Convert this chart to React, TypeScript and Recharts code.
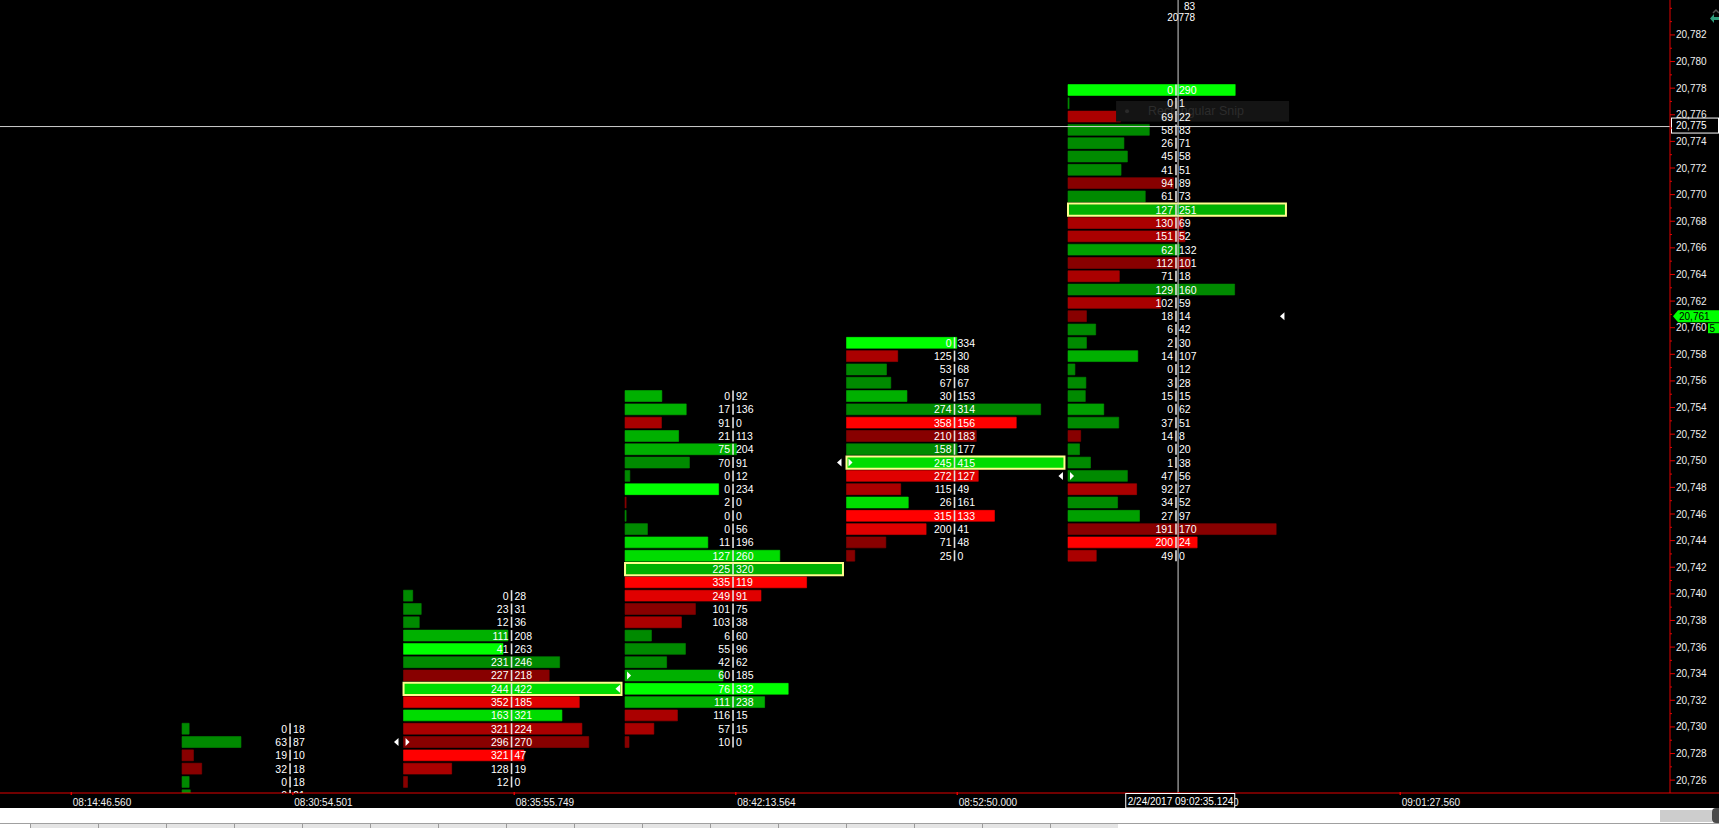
import React from 'react'
import { ComposedChart, XAxis, YAxis, Scatter, ReferenceArea, ReferenceLine, ReferenceDot } from 'recharts'

// footprint bars: top price of each bar, then bid | ask volume per price row (top row first)
const col1Top = 20730
const col1Bid = [0, 63, 19, 32, 0, 0]
const col1Ask = [18, 87, 10, 18, 18, 21]
const col1PocVolume = 555 // poc of the first bar sits below the visible range

const col2Top = 20740
const col2Bid = [0, 23, 12, 111, 41, 231, 227, 244, 352, 163, 321, 296, 321, 128, 12]
const col2Ask = [28, 31, 36, 208, 263, 246, 218, 422, 185, 321, 224, 270, 47, 19, 0]

const col3Top = 20755
const col3Bid = [0, 17, 91, 21, 75, 70, 0, 0, 2, 0, 0, 11, 127, 225, 335, 249, 101, 103, 6, 55, 42, 60, 76, 111, 116, 57, 10]
const col3Ask = [92, 136, 0, 113, 204, 91, 12, 234, 0, 0, 56, 196, 260, 320, 119, 91, 75, 38, 60, 96, 62, 185, 332, 238, 15, 15, 0]

const col4Top = 20759
const col4Bid = [0, 125, 53, 67, 30, 274, 358, 210, 158, 245, 272, 115, 26, 315, 200, 71, 25]
const col4Ask = [334, 30, 68, 67, 153, 314, 156, 183, 177, 415, 127, 49, 161, 133, 41, 48, 0]

const col5Top = 20778
const col5Bid = [0, 0, 69, 58, 26, 45, 41, 94, 61, 127, 130, 151, 62, 112, 71, 129, 102, 18, 6, 2, 14, 0, 3, 15, 0, 37, 14, 0, 1, 47, 92, 34, 27, 191, 200, 49]
const col5Ask = [290, 1, 22, 83, 71, 58, 51, 89, 73, 251, 69, 52, 132, 101, 18, 160, 59, 14, 42, 30, 107, 12, 28, 15, 62, 51, 8, 20, 38, 56, 27, 52, 97, 170, 24, 0]

const timeLabels = ['08:14:46.560', '08:30:54.501', '08:35:55.749', '08:42:13.564', '08:52:50.000', '08:57:48.250', '09:01:27.560']
const priceTicks = Array.from({ length: 59 }, (_, i) => 20726 + i)

// open (▶) and close (◀) markers, bars 1..5
const openMarks = [null, 20729, 20734, 20750, 20749]
const closeMarks = [20729, 20733, 20750, 20749, 20761]

const lastPrice = 20761
const crossPrice = 20775.25
const crossTime = 5.497
const crossDate = '2/24/2017 09:02:35.124'

const xDomain = [0.178, 7.718]
const yDomain = [20725.17, 20784.76]
const BAR_W = 0.984
const DIVIDER = 0.4876
const RED = '#e00000'
const FONT = 'Liberation Sans, Arial, sans-serif'

const colTops = [col1Top, col2Top, col3Top, col4Top, col5Top]
const colBids = [col1Bid, col2Bid, col3Bid, col4Bid, col5Bid]
const colAsks = [col1Ask, col2Ask, col3Ask, col4Ask, col5Ask]

const cells = colTops.flatMap((top, i) =>
  colBids[i].map((bid, k) => ({ col: i + 1, price: top - k, bid, ask: colAsks[i][k], x: i + 1 + DIVIDER, y: top - k }))
)

const colMax = colTops.map((_, i) =>
  i === 0 ? col1PocVolume : Math.max(...colBids[i].map((b, k) => b + colAsks[i][k]))
)

const pocs = colTops
  .map((top, i) => {
    if (i === 0) return null
    const totals = colBids[i].map((b, k) => b + colAsks[i][k])
    return { col: i + 1, price: top - totals.indexOf(colMax[i]) }
  })
  .filter(Boolean) as { col: number; price: number }[]

function cellColor(bid: number, ask: number) {
  const d = ask - bid
  if (d >= 0) {
    if (d >= 200) return '#00ff00'
    if (d >= 130) return '#00dc00'
    if (d >= 90) return '#00b000'
    if (d >= 60) return '#00a000'
    return '#008a00'
  }
  const m = -d
  if (m >= 170) return '#ff0000'
  if (m >= 140) return '#e00000'
  if (m >= 40) return '#aa0000'
  return '#880000'
}

const CellText = (props: any) => {
  const { cx, cy, payload } = props
  if (cx == null || cy == null) return <g />
  return (
    <g>
      <line x1={cx} x2={cx} y1={cy - 5.5} y2={cy + 5.5} stroke="#e2e2e2" strokeWidth={1.6} />
      <text x={cx - 3} y={cy} textAnchor="end" dominantBaseline="central" fill="#ffffff" fontSize={10.5} fontFamily={FONT}>
        {payload.bid}
      </text>
      <text x={cx + 3} y={cy} textAnchor="start" dominantBaseline="central" fill="#ffffff" fontSize={10.5} fontFamily={FONT}>
        {payload.ask}
      </text>
    </g>
  )
}

const PriceTick = (props: any) => {
  const { x, y, payload } = props
  const v = payload.value
  const major = v % 2 === 0 && v <= 20782
  const ty = y - 1.8
  return (
    <g>
      <line x1={x} x2={x + (major ? 5 : 2)} y1={ty} y2={ty} stroke={RED} />
      {major && (
        <text x={x + 6} y={ty} dominantBaseline="central" fill="#f0f0f0" fontSize={10} fontFamily={FONT}>
          {v.toLocaleString('en-US')}
        </text>
      )}
    </g>
  )
}

// time labels; the tick under the crosshair also carries the crosshair date box on top of its label
const TimeTick = (props: any) => {
  const { x, y, payload } = props
  const idx = Math.round(payload.value - 0.5)
  const underCross = idx === Math.floor(crossTime)
  return (
    <g>
      <line x1={x} x2={x} y1={y - 1} y2={y + 2} stroke={RED} strokeWidth={1.5} />
      <text x={x + 1.5} y={y + 9} dominantBaseline="central" fill="#f0f0f0" fontSize={10} fontFamily={FONT}>
        {timeLabels[idx]}
      </text>
      {underCross && (
        <g>
          <rect x={x - 53} y={y + 0.5} width={109} height={14.5} fill="#000" stroke="#ffffff" />
          <text x={x - 51} y={y + 8} dominantBaseline="central" fill="#ffffff" fontSize={10} fontFamily={FONT}>
            {crossDate}
          </text>
        </g>
      )}
    </g>
  )
}

const CloseMark = (props: any) => (
  <polygon points={`${props.cx - 6},${props.cy} ${props.cx - 1.5},${props.cy - 4} ${props.cx - 1.5},${props.cy + 4}`} fill="#ffffff" />
)
const OpenMark = (props: any) => (
  <polygon points={`${props.cx + 2},${props.cy - 4} ${props.cx + 6},${props.cy} ${props.cx + 2},${props.cy + 4}`} fill="#ffffff" />
)

const LastPriceTag = (props: any) => {
  const { cx, cy } = props
  return (
    <g>
      <polygon points={`${cx + 3},${cy} ${cx + 8},${cy - 6} ${cx + 49},${cy - 6} ${cx + 49},${cy + 6} ${cx + 8},${cy + 6}`} fill="#00ff00" />
      <text x={cx + 9} y={cy} dominantBaseline="central" fill="#000" fontSize={10} fontFamily={FONT}>
        {lastPrice.toLocaleString('en-US')}
      </text>
      <rect x={cx + 38} y={cy + 7} width={11} height={10} fill="#00ff00" />
      <text x={cx + 39.5} y={cy + 12} dominantBaseline="central" fill="#000" fontSize={10} fontFamily={FONT}>5</text>
    </g>
  )
}

const CrossPriceTag = (props: any) => {
  const { cx, cy } = props
  return (
    <g>
      <rect x={cx + 1.5} y={cy - 8.5} width={47} height={15} fill="#000" stroke="#ffffff" />
      <text x={cx + 6} y={cy - 1} dominantBaseline="central" fill="#ffffff" fontSize={10} fontFamily={FONT}>
        {Math.floor(crossPrice).toLocaleString('en-US')}
      </text>
    </g>
  )
}

const CrossTopLabel = (props: any) => {
  const { cx, cy } = props
  return (
    <g fontFamily={FONT} fontSize={10} fill="#ffffff">
      <text x={cx + 17} y={cy + 6} textAnchor="end" dominantBaseline="central">83</text>
      <text x={cx + 17} y={cy + 17} textAnchor="end" dominantBaseline="central">{col5Top}</text>
    </g>
  )
}

const CornerIcon = (props: any) => {
  const { cx, cy } = props
  return (
    <g>
      <polyline points={`${cx + 43},${cy + 13} ${cx + 46},${cy + 10} ${cx + 49},${cy + 13}`} stroke="#555" fill="none" strokeWidth={1.5} />
      <polygon
        points={`${cx + 40},${cy + 18.5} ${cx + 44},${cy + 14} ${cx + 44},${cy + 17} ${cx + 49},${cy + 17} ${cx + 49},${cy + 20} ${cx + 44},${cy + 20} ${cx + 44},${cy + 23}`}
        fill="#2f9c7c"
      />
    </g>
  )
}

const AxisCorner = (props: any) => (
  <line x1={props.cx} x2={props.cx + 49} y1={props.cy} y2={props.cy} stroke={RED} />
)

const SnipOverlay = (props: any) => {
  const { x, y, width, height } = props
  return (
    <g>
      <rect x={x} y={y} width={width} height={height} fill="#141414" />
      <circle cx={x + 11} cy={y + height / 2} r={2} fill="#2a2a2a" />
      <text x={x + 32} y={y + height / 2} dominantBaseline="central" fill="#2c2c2c" fontSize={12.5} fontFamily={FONT}>
        Rectangular Snip
      </text>
    </g>
  )
}

export default function App() {
  return (
    <div style={{ position: 'fixed', left: 0, top: 0, width: 1719, height: 828, background: '#000', overflow: 'hidden' }}>
      <ComposedChart width={1719} height={808} margin={{ top: 0, right: 0, bottom: 0, left: 0 }}>
        <XAxis
          type="number"
          dataKey="x"
          domain={xDomain}
          allowDataOverflow
          ticks={timeLabels.map((_, i) => i + 0.5)}
          interval={0}
          height={15}
          tickSize={0}
          tickMargin={0}
          axisLine={{ stroke: RED }}
          tickLine={false}
          tick={TimeTick}
        />
        <YAxis
          type="number"
          dataKey="y"
          orientation="right"
          domain={yDomain}
          allowDataOverflow
          ticks={priceTicks}
          interval={0}
          width={49}
          tickSize={0}
          tickMargin={0}
          axisLine={{ stroke: RED }}
          tickLine={false}
          tick={PriceTick}
        />
        {cells.map((c) => {
          const color = cellColor(c.bid, c.ask)
          const len = Math.max((c.bid + c.ask) / colMax[c.col - 1], 0.005)
          return (
            <ReferenceArea
              key={`bar-${c.col}-${c.price}`}
              x1={c.col}
              x2={c.col + BAR_W * len}
              y1={c.price - 0.41}
              y2={c.price + 0.41}
              fill={color}
              fillOpacity={1}
              stroke={color}
              strokeWidth={0.6}
              ifOverflow="hidden"
            />
          )
        })}
        {pocs.map((p) => (
          <ReferenceArea
            key={`poc-${p.col}`}
            x1={p.col}
            x2={p.col + BAR_W}
            y1={p.price - 0.46}
            y2={p.price + 0.46}
            fill="none"
            stroke="#ffff8c"
            strokeWidth={2}
            ifOverflow="hidden"
          />
        ))}
        <ReferenceArea x1={5.217} x2={5.998} y1={20775.62} y2={20777.17} shape={SnipOverlay} ifOverflow="hidden" />
        <ReferenceLine x={crossTime} stroke="#cfcfcf" strokeWidth={1} />
        <ReferenceLine y={crossPrice} stroke="#cfcfcf" strokeWidth={1} />
        <Scatter data={cells} shape={CellText} isAnimationActive={false} />
        {closeMarks.map((p, i) => (
          <ReferenceDot key={`close-${i}`} x={i + 1 + BAR_W} y={p} shape={CloseMark} ifOverflow="visible" />
        ))}
        {openMarks.map((p, i) =>
          p == null ? null : <ReferenceDot key={`open-${i}`} x={i + 1} y={p} shape={OpenMark} ifOverflow="visible" />
        )}
        <ReferenceDot x={xDomain[1]} y={lastPrice} shape={LastPriceTag} ifOverflow="visible" />
        <ReferenceDot x={xDomain[1]} y={crossPrice} shape={CrossPriceTag} ifOverflow="visible" />
        <ReferenceDot x={crossTime} y={yDomain[1]} shape={CrossTopLabel} ifOverflow="visible" />
        <ReferenceDot x={xDomain[1]} y={yDomain[1]} shape={CornerIcon} ifOverflow="visible" />
        <ReferenceDot x={xDomain[1]} y={yDomain[0]} shape={AxisCorner} ifOverflow="visible" />
      </ComposedChart>
      <div style={{ position: 'relative', height: 15, background: '#ffffff' }}>
        <div style={{ position: 'absolute', left: 1660, top: 2, width: 52, height: 12, background: '#cdcdcd' }} />
        <div style={{ position: 'absolute', left: 1712, top: 0, width: 7, height: 15, background: '#4a4a4a', borderRadius: '4px 0 0 4px' }} />
      </div>
      <div style={{ display: 'flex', height: 5, background: '#ffffff', borderTop: '1px solid #a0a0a0' }}>
        <div style={{ width: 30, background: '#ffffff' }} />
        {Array.from({ length: 16 }, (_, i) => (
          <div key={i} style={{ width: 68, background: '#e4e4e4', borderLeft: '1px solid #9a9a9a', boxSizing: 'border-box' }} />
        ))}
      </div>
    </div>
  )
}
